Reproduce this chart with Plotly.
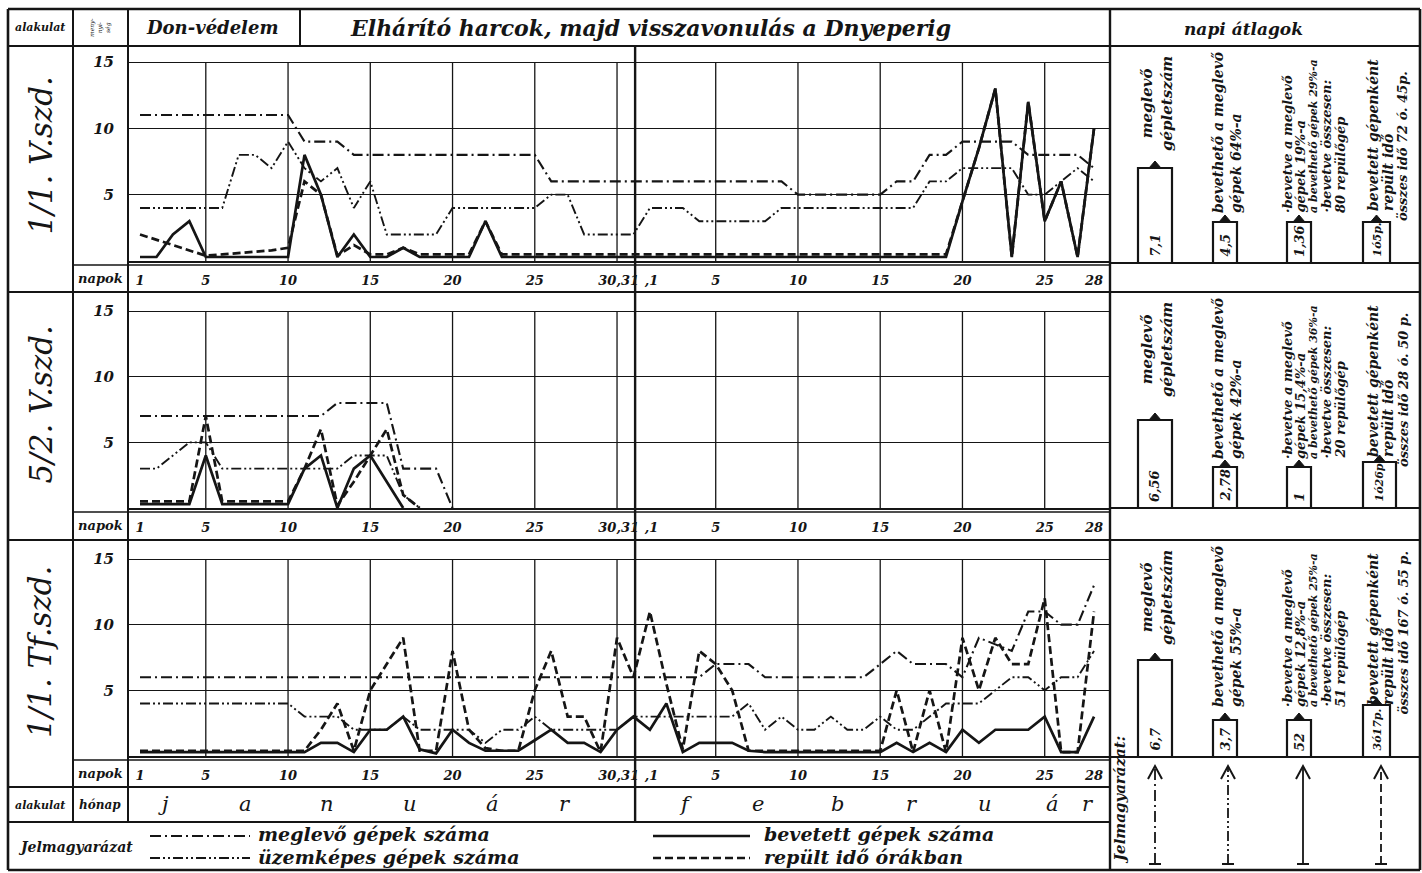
import plotly.graph_objects as go

W, H = 1422, 873
INK = "#151515"
SERIF = "DejaVu Serif"

# ---------------- data ----------------
DAYS_JAN = list(range(1, 32))
DAYS_FEB = list(range(1, 29))

# 1/1. V.szd.
V1_MEGLEVO_JAN = [11, 11, 11, 11, 11, 11, 11, 11, 11, 11, 9, 9, 9, 8, 8, 8, 8, 8, 8, 8, 8, 8, 8, 8, 8, 6, 6, 6, 6, 6, 6]
V1_MEGLEVO_FEB = [6, 6, 6, 6, 6, 6, 6, 6, 6, 5, 5, 5, 5, 5, 5, 6, 6, 8, 8, 9, 9, 9, 9, 8, 8, 8, 8, 7]
V1_UZEM_JAN = [4, 4, 4, 4, 4, 4, 8, 8, 7, 9, 7, 6, 7, 4, 6, 2, 2, 2, 2, 4, 4, 4, 4, 4, 4, 5, 5, 2, 2, 2, 2]
V1_UZEM_FEB = [4, 4, 4, 3, 3, 3, 3, 3, 4, 4, 4, 4, 4, 4, 4, 4, 4, 6, 6, 7, 7, 7, 7, 5, 5, 6, 7, 6]
V1_BEVET_JAN = [0.3, 0.3, 2, 3, 0.3, 0.3, 0.3, 0.3, 0.3, 0.3, 8, 5, 0.3, 2, 0.3, 0.3, 1, 0.3, 0.3, 0.3, 0.3, 3,
                0.3, 0.3, 0.3, 0.3, 0.3, 0.3, 0.3, 0.3, 0.3]
V1_BEVET_FEB = [0.3, 0.3, 0.3, 0.3, 0.3, 0.3, 0.3, 0.3, 0.3, 0.3, 0.3, 0.3, 0.3, 0.3, 0.3, 0.3, 0.3, 0.3, 0.3,
                4.5, 8.5, 13, 0.3, 12, 3, 6, 0.3, 10]
V1_REPULT_JAN = [2, 1.6, 1.2, 0.8, 0.4, 0.5, 0.6, 0.7, 0.8, 1, 6, 5, 0.4, 1.2, 0.5, 0.5, 1, 0.5, 0.5, 0.5, 0.5, 3,
                 0.5, 0.5, 0.5, 0.5, 0.5, 0.5, 0.5, 0.5, 0.5]
V1_REPULT_FEB = [0.5, 0.5, 0.5, 0.5, 0.5, 0.5, 0.5, 0.5, 0.5, 0.5, 0.5, 0.5, 0.5, 0.5, 0.5, 0.5, 0.5, 0.5, 0.5,
                 4.5, 8.5, 13, 0.3, 12, 3, 6, 0.3, 10]

# 5/2. V.szd.
N = None
V2_MEGLEVO_JAN = [7, 7, 7, 7, 7, 7, 7, 7, 7, 7, 7, 7, 8, 8, 8, 8, 3, 3, 3, 0, N, N, N, N, N, N, N, N, N, N, N]
V2_UZEM_JAN = [3, 3, 4, 5, 5, 3, 3, 3, 3, 3, 3, 3, 3, 4, 4, 4, 1, 0, N, N, N, N, N, N, N, N, N, N, N, N, N]
V2_BEVET_JAN = [0.3, 0.3, 0.3, 0.3, 4, 0.3, 0.3, 0.3, 0.3, 0.3, 3, 4, 0, 3, 4, 2, 0, N, N, N, N, N, N, N, N, N, N, N, N, N, N]
V2_REPULT_JAN = [0.5, 0.5, 0.5, 0.5, 7, 0.5, 0.5, 0.5, 0.5, 0.5, 3, 6, 0.2, 2, 4, 6, 1, 0, N, N, N, N, N, N, N, N, N, N, N, N, N]
V2_EMPTY_FEB = [N, N, N, N, N, N, N, N, N, N, N, N, N, N, N, N, N, N, N, N, N, N, N, N, N, N, N, N]

# 1/1. Tf.szd.
TF_MEGLEVO_JAN = [6, 6, 6, 6, 6, 6, 6, 6, 6, 6, 6, 6, 6, 6, 6, 6, 6, 6, 6, 6, 6, 6, 6, 6, 6, 6, 6, 6, 6, 6, 6]
TF_MEGLEVO_FEB = [6, 6, 6, 6, 7, 7, 7, 6, 6, 6, 6, 6, 6, 6, 7, 8, 7, 7, 7, 6, 9, 8.5, 8, 11, 11, 10, 10, 13]
TF_UZEM_JAN = [4, 4, 4, 4, 4, 4, 4, 4, 4, 4, 3, 3, 3, 2, 2, 2, 3, 2, 2, 2, 2, 1, 2, 2, 3, 2, 2, 2, 2, 2, 3]
TF_UZEM_FEB = [3, 3, 3, 3, 3, 3, 4, 2, 3, 2, 2, 3, 2, 2, 3, 2, 2, 3, 4, 4, 4, 5, 6, 6, 5, 6, 6, 8]
TF_BEVET_JAN = [0.3, 0.3, 0.3, 0.3, 0.3, 0.3, 0.3, 0.3, 0.3, 0.3, 0.3, 1, 1, 0.3, 2, 2, 3, 0.5, 0.2, 2, 1,
                0.4, 0.4, 0.4, 1.2, 2, 1, 1, 0.3, 2, 3]
TF_BEVET_FEB = [2, 4, 0.3, 1, 1, 1, 0.4, 0.3, 0.3, 0.3, 0.3, 0.3, 0.3, 0.3, 0.3, 1, 0.3, 1, 0.3, 2, 1, 2, 2, 2, 3,
                0.3, 0.3, 3]
TF_REPULT_JAN = [0.4, 0.4, 0.4, 0.4, 0.4, 0.4, 0.4, 0.4, 0.4, 0.4, 0.4, 2, 4, 0.4, 5, 7, 9, 0.4, 0.4, 8, 2,
                 0.6, 0.4, 0.4, 5, 8, 3, 3, 0.3, 9, 6]
TF_REPULT_FEB = [11, 5.5, 0.5, 8, 7, 5, 0.4, 0.4, 0.4, 0.4, 0.4, 0.4, 0.4, 0.4, 0.4, 5, 0.3, 5, 0.3, 9, 5, 9, 7, 7,
                 12, 0.3, 0.3, 11]

# axis labels
TICK_POS = [1, 5, 10, 15, 20, 25, 30.1, 32.1, 36, 41, 46, 51, 56, 59]
TICK_TEXT = ["1", "5", "10", "15", "20", "25", "30,31", ",1", "5", "10", "15", "20", "25", "28"]
GRID_DAYS = [5, 10, 15, 20, 25, 30, 36, 41, 46, 51, 56]
Y_TICKS = [5, 10, 15]
UNIT_NAMES = ["1/1. V.szd.", "5/2. V.szd.", "1/1. Tf.szd."]
MONTH_LETTERS_JAN = ["j", "a", "n", "u", "á", "r"]
MONTH_LETTERS_FEB = ["f", "e", "b", "r", "u", "á", "r"]

# napi átlagok
AVG_BOX = [["7,1", "4,5", "1,36", "1ó5p."],
           ["6,56", "2,78", "1", "1ó26p."],
           ["6,7", "3,7", "52", "3ó17p."]]
TXT_BEVETHETO = ["gépek 64%-a", "gépek 42%-a", "gépek 55%-a"]
TXT_BEVETVE = [["gépek 19%-a", "a bevethető gépek 29%-a", "80 repülőgép"],
               ["gépek 15,4%-a", "a bevethető gépek 36%-a", "20 repülőgép"],
               ["gépek 12,8%-a", "a bevethető gépek 25%-a", "51 repülőgép"]]
TXT_OSSZES = ["összes idő 72 ó. 45p.", "összes idő 28 ó. 50 p.", "összes idő 167 ó. 55 p."]

# ---------------- helpers ----------------
def fx(x):
    return x / W


def fy(y):
    return 1 - y / H


shapes, annotations = [], []


def hline(y, x0, x1, w=2.0):
    shapes.append(dict(type="line", xref="paper", yref="paper", x0=fx(x0), x1=fx(x1), y0=fy(y), y1=fy(y),
                       line=dict(color=INK, width=w)))


def vline(x, y0, y1, w=2.0):
    shapes.append(dict(type="line", xref="paper", yref="paper", x0=fx(x), x1=fx(x), y0=fy(y0), y1=fy(y1),
                       line=dict(color=INK, width=w)))


def ann(x, y, text, size, angle=0, xa="center", ya="middle", weight="normal", style="italic", align="center"):
    annotations.append(dict(xref="paper", yref="paper", x=fx(x), y=fy(y), text=text, showarrow=False,
                            textangle=angle, xanchor=xa, yanchor=ya, align=align,
                            font=dict(family=SERIF, size=size, color=INK, weight=weight, style=style)))


DASHDOT = "11px,4px,2px,4px"
DASHDOTDOT = "10px,3px,2px,3px,2px,3px"
DASHED = "8px,4px"

# ---------------- figure ----------------
fig = go.Figure()
X = DAYS_JAN + [31 + d for d in DAYS_FEB]

panels = [
    (V1_MEGLEVO_JAN + V1_MEGLEVO_FEB, V1_UZEM_JAN + V1_UZEM_FEB, V1_BEVET_JAN + V1_BEVET_FEB, V1_REPULT_JAN + V1_REPULT_FEB),
    (V2_MEGLEVO_JAN + V2_EMPTY_FEB, V2_UZEM_JAN + V2_EMPTY_FEB, V2_BEVET_JAN + V2_EMPTY_FEB, V2_REPULT_JAN + V2_EMPTY_FEB),
    (TF_MEGLEVO_JAN + TF_MEGLEVO_FEB, TF_UZEM_JAN + TF_UZEM_FEB, TF_BEVET_JAN + TF_BEVET_FEB, TF_REPULT_JAN + TF_REPULT_FEB),
]
# pixel geometry: (value-0 line, value-15 line, panel top)
GEOM = [(261, 62, 46), (508, 311, 297), (756, 559, 544)]

tickfont = dict(family=SERIF, size=13, color=INK, weight="bold", style="italic")
for i, (series, (y0p, y15p, topp)) in enumerate(zip(panels, GEOM)):
    k = "" if i == 0 else str(i + 1)
    xa, ya = "x" + k, "y" + k
    meg, uzem, bev, rep = series
    styles = [(meg, DASHDOT, 2.1), (uzem, DASHDOTDOT, 1.9), (rep, DASHED, 2.7), (bev, "solid", 2.7)]
    for ys, dash, w in styles:
        fig.add_trace(go.Scatter(x=X, y=ys, mode="lines", xaxis=xa, yaxis=ya, hoverinfo="skip",
                                 connectgaps=False, line=dict(color=INK, width=w, dash=dash)))
    rmax = 15 * (y0p - topp) / (y0p - y15p)
    fig.update_layout(**{
        "xaxis" + k: dict(domain=[fx(128), fx(1110)], range=[0.27, 59.97], anchor=ya, showgrid=False,
                          zeroline=False, showline=True, linecolor=INK, linewidth=2, tickmode="array",
                          tickvals=TICK_POS, ticktext=TICK_TEXT, ticks="outside", ticklen=6, tickangle=0,
                          tickcolor="rgba(0,0,0,0)", tickfont=tickfont, fixedrange=True),
        "yaxis" + k: dict(domain=[fy(y0p), fy(topp)], range=[0, rmax], anchor=xa, tickmode="array",
                          tickvals=Y_TICKS, ticktext=[str(t) for t in Y_TICKS], showgrid=True, gridcolor=INK,
                          gridwidth=1.3, zeroline=False, showline=False, ticks="outside", ticklen=10,
                          tickcolor="rgba(0,0,0,0)", tickfont=dict(tickfont, size=15), fixedrange=True),
    })
    for d in GRID_DAYS:
        shapes.append(dict(type="line", xref=xa, yref=ya, x0=d, x1=d, y0=0, y1=15,
                           line=dict(color=INK, width=1.3)))
    # napok row
    hline(y0p + 4, 73, 1110, 1.5)
    ann(100, y0p + 17, "napok", 13, weight="bold")
    # unit label
    ann(40, (topp + y0p) / 2 + 2, UNIT_NAMES[i], 31, angle=-90)

# Jan / Feb divider
shapes.append(dict(type="line", xref="x", yref="paper", x0=31.1, x1=31.1, y0=fy(822), y1=fy(46),
                   line=dict(color=INK, width=2.4)))

# table frame
hline(9, 8, 1420, 2.6)
hline(46, 8, 1420, 2.2)
hline(292, 8, 1420, 2.2)
hline(540, 8, 1420, 2.2)
hline(787, 8, 1110, 2.2)
hline(822, 8, 1110, 2.0)
hline(870, 8, 1420, 2.6)
hline(263, 1110, 1420, 1.8)
hline(508, 1110, 1420, 1.8)
hline(757, 1110, 1420, 1.8)
vline(8, 9, 870, 2.6)
vline(1420, 9, 870, 2.6)
vline(73, 9, 822, 2.0)
vline(128, 9, 822, 2.0)
vline(300, 9, 46, 2.0)
vline(1110, 9, 870, 2.4)

# header row
ann(40, 28, "alakulat", 11, weight="bold")
ann(100, 28, "meny-<br>nyi-<br>ség", 6, angle=-90)
ann(212, 28, "Don-védelem", 18, weight="bold")
ann(650, 28, "Elhárító harcok, majd visszavonulás a Dnyeperig", 22, weight="bold")
ann(1243, 29, "napi átlagok", 17, weight="bold")

# month row
ann(40, 805, "alakulat", 11, weight="bold")
ann(100, 805, "hónap", 12, weight="bold")
for xp, t in zip([163, 245, 327, 410, 492, 565], MONTH_LETTERS_JAN):
    ann(xp, 804, t, 21)
for xp, t in zip([685, 758, 838, 912, 985, 1052, 1088], MONTH_LETTERS_FEB):
    ann(xp, 804, t, 21)

# legend row
ann(16, 847, "Jelmagyarázat", 14, xa="left", weight="bold")
for (x0, x1, y, dash, w) in [(150, 250, 836, DASHDOT, 2.0), (150, 250, 858, DASHDOTDOT, 1.8),
                             (653, 750, 836, "solid", 2.6), (653, 750, 858, DASHED, 2.6)]:
    shapes.append(dict(type="line", xref="paper", yref="paper", x0=fx(x0), x1=fx(x1), y0=fy(y), y1=fy(y),
                       line=dict(color=INK, width=w, dash=dash)))
ann(256, 834, "meglevő gépek száma", 19, xa="left", weight="bold")
ann(256, 857, "üzemképes gépek száma", 19, xa="left", weight="bold")
ann(762, 834, "bevetett gépek száma", 19, xa="left", weight="bold")
ann(762, 857, "repült idő órákban", 19, xa="left", weight="bold")

# napi átlagok boxes and texts
BOXX = [(1138, 1172), (1213, 1237), (1287, 1311), (1363, 1390)]
for i in range(3):
    base = [263, 508, 757][i]
    off = [0, 246, 494][i]
    tops = [[168, 222, 222, 222], [420, 467, 467, 462], [660, 720, 720, 705]][i]
    for j, ((bx0, bx1), top) in enumerate(zip(BOXX, tops)):
        if i == 1 and j == 3:
            bx1 = 1396
        shapes.append(dict(type="rect", xref="paper", yref="paper", x0=fx(bx0), x1=fx(bx1), y0=fy(base),
                           y1=fy(top), line=dict(color=INK, width=2.2)))
        xc = (bx0 + bx1) / 2
        shapes.append(dict(type="path", xref="paper", yref="paper",
                           path=f"M {fx(xc-6)},{fy(top)} L {fx(xc)},{fy(top-7)} L {fx(xc+6)},{fy(top)} Z",
                           fillcolor=INK, line=dict(color=INK, width=1)))
        ann(xc, base - 4, AVG_BOX[i][j], 13 if j != 3 else 11, angle=-90, ya="bottom", weight="bold")
    bot = 215 + off
    ann(1157, 104 + off, "meglevő<br>gépletszám", 15, angle=-90, weight="bold")
    ann(1218, bot, "bevethető a meglevő", 14, angle=-90, ya="bottom", weight="bold")
    ann(1236, bot, TXT_BEVETHETO[i], 14, angle=-90, ya="bottom", weight="bold")
    ann(1287, bot, "·bevetve a meglevő", 13, angle=-90, ya="bottom", weight="bold")
    ann(1300, bot, TXT_BEVETVE[i][0], 13, angle=-90, ya="bottom", weight="bold")
    ann(1313, bot, TXT_BEVETVE[i][1], 11, angle=-90, ya="bottom", weight="bold")
    ann(1326, bot, "·bevetve összesen:", 13, angle=-90, ya="bottom", weight="bold")
    ann(1340, bot, TXT_BEVETVE[i][2], 13, angle=-90, ya="bottom", weight="bold")
    ann(1373, bot - 2, "bevetett gépenként", 14, angle=-90, ya="bottom", weight="bold")
    ann(1388, bot - 2, "repült idő", 14, angle=-90, ya="bottom", weight="bold")
    ann(1403, bot + 8, TXT_OSSZES[i], 13, angle=-90, ya="bottom", weight="bold")

# Jelmagyarázat arrows (right bottom)
ann(1120, 866, "Jelmagyarázat:", 15, angle=-90, ya="bottom", weight="bold")
for xa_, dash in zip([1155, 1228, 1303, 1381], [DASHDOT, DASHDOTDOT, "solid", DASHED]):
    shapes.append(dict(type="line", xref="paper", yref="paper", x0=fx(xa_), x1=fx(xa_), y0=fy(864), y1=fy(768),
                       line=dict(color=INK, width=1.8, dash=dash)))
    shapes.append(dict(type="path", xref="paper", yref="paper",
                       path=f"M {fx(xa_-7)},{fy(779)} L {fx(xa_)},{fy(766)} L {fx(xa_+7)},{fy(779)}",
                       line=dict(color=INK, width=2)))
    shapes.append(dict(type="line", xref="paper", yref="paper", x0=fx(xa_-6), x1=fx(xa_+6), y0=fy(864),
                       y1=fy(864), line=dict(color=INK, width=2)))

fig.update_layout(width=W, height=H, margin=dict(l=0, r=0, t=0, b=0), paper_bgcolor="white",
                  plot_bgcolor="white", showlegend=False, shapes=shapes, annotations=annotations)

fig.write_html("out.html", config={"displayModeBar": False},
               post_script="document.body.style.margin='0';document.body.style.overflow='hidden';")
